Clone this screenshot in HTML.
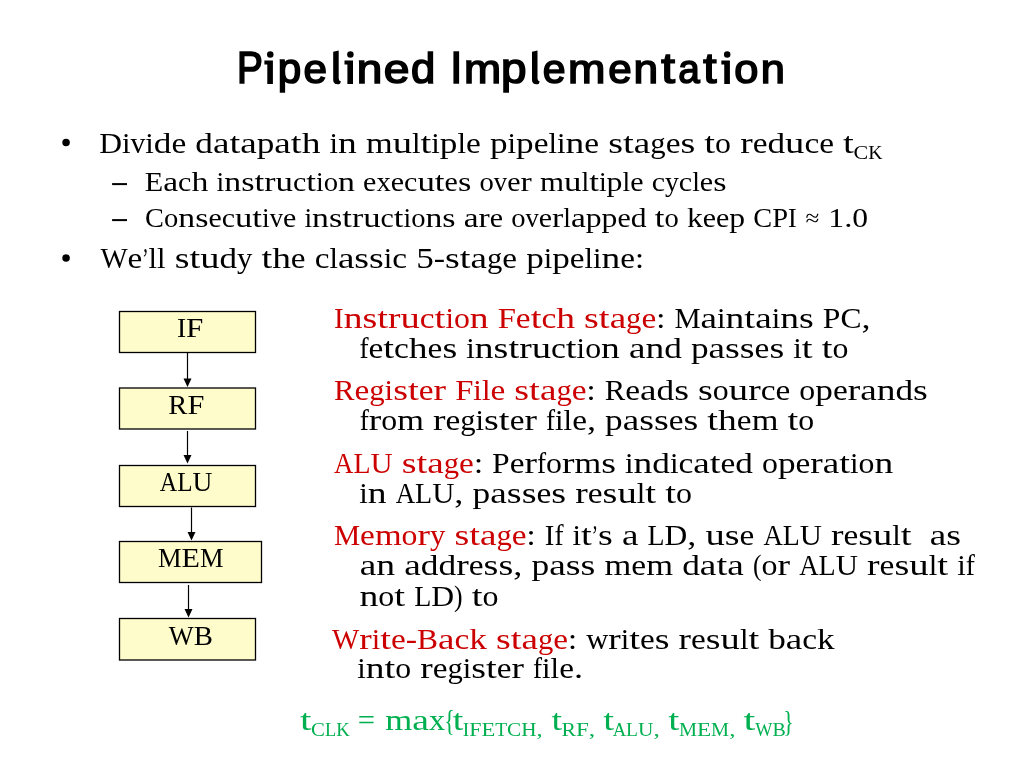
<!DOCTYPE html>
<html>
<head>
<meta charset="utf-8">
<style>
html,body{margin:0;padding:0;background:#fff;}
body{width:1024px;height:768px;overflow:hidden;}
svg{display:block;will-change:transform;}
.t{font-family:"Liberation Serif",serif;}
.s{font-family:"Liberation Sans",sans-serif;}
</style>
</head>
<body>
<svg width="1024" height="768" viewBox="0 0 1024 768">
<rect x="0" y="0" width="1024" height="768" fill="#fff"/>
<!-- bullets -->
<circle cx="66.05" cy="142.6" r="3.75" fill="#000"/>
<circle cx="66.05" cy="258.05" r="3.75" fill="#000"/>
<rect x="112.1" y="183.1" width="14.9" height="2" fill="#000"/>
<rect x="112.1" y="219.1" width="14.9" height="2" fill="#000"/>
<!-- Diagram -->
<g stroke="#000" stroke-width="1.3" fill="#FFFCCC">
<rect x="119.5" y="311.5" width="136" height="41"/>
<rect x="119.5" y="388" width="136" height="41"/>
<rect x="119.5" y="465.5" width="136" height="41"/>
<rect x="119.5" y="541.5" width="142" height="41"/>
<rect x="119.5" y="618.5" width="136" height="41.5"/>
</g>
<g stroke="#000" stroke-width="1.2">
<line x1="187.5" y1="353" x2="187.5" y2="380"/>
<line x1="187.5" y1="431" x2="187.5" y2="457"/>
<line x1="191.5" y1="507.5" x2="191.5" y2="534"/>
<line x1="188.5" y1="585" x2="188.5" y2="611"/>
</g>
<g fill="#000">
<polygon points="183.5,378.5 191.5,378.5 187.5,387"/>
<polygon points="183.5,455 191.5,455 187.5,463.5"/>
<polygon points="187.5,532 195.5,532 191.5,540.5"/>
<polygon points="184.5,609 192.5,609 188.5,617.5"/>
</g>
<!-- texts -->
<g fill="#000"><path d="M267.30,60.5 L272.90,60.5 L272.90,84 L267.30,84 L267.30,64.6 L264.40,64.6 L264.40,60.5 Z"/><circle cx="270.25" cy="54.4" r="3.25"/><path d="M333.20,51.7 L338.70,50.5 L338.70,78.6 Q338.80,80.9 340.90,81.6 L340.00,83.7 Q337.40,84.7 335.00,83.8 Q333.20,82.9 333.20,80.2 Z"/><path d="M347.40,60.5 L353.00,60.5 L353.00,84 L347.40,84 L347.40,64.6 L344.50,64.6 L344.50,60.5 Z"/><circle cx="350.40" cy="54.4" r="3.25"/><path d="M532.00,51.7 L537.50,50.5 L537.50,78.6 Q537.60,80.9 539.70,81.6 L538.80,83.7 Q536.20,84.7 533.80,83.8 Q532.00,82.9 532.00,80.2 Z"/><path d="M724.25,60.5 L729.90,60.5 L729.90,84 L724.25,84 L724.25,64.6 L721.35,64.6 L721.35,60.5 Z"/><circle cx="727.20" cy="54.4" r="3.25"/></g><g font-family="'Liberation Sans', sans-serif" font-size="44" fill="#000" stroke="#000" stroke-width="1.7"><text x="237.01" y="83.3" textLength="25.84" lengthAdjust="spacingAndGlyphs">P</text><text x="277.88" y="83.3" textLength="23.48" lengthAdjust="spacingAndGlyphs" transform="matrix(1,0,0,0.97,0,2.499)">p</text><text x="303.44" y="83.3" textLength="23.48" lengthAdjust="spacingAndGlyphs" transform="matrix(1,0,0,0.92,0,6.664)">e</text><text x="356.71" y="83.3" textLength="25.53" lengthAdjust="spacingAndGlyphs" transform="matrix(1,0,0,0.92,0,6.664)">n</text><text x="383.85" y="83.3" textLength="25.71" lengthAdjust="spacingAndGlyphs" transform="matrix(1,0,0,0.92,0,6.664)">e</text><text x="411.01" y="83.3" textLength="24.26" lengthAdjust="spacingAndGlyphs" transform="matrix(1,0,0,0.97,0,2.499)">d</text><text x="450.25" y="83.3" textLength="12.03" lengthAdjust="spacingAndGlyphs">I</text><text x="464.08" y="83.3" textLength="37.10" lengthAdjust="spacingAndGlyphs" transform="matrix(1,0,0,0.92,0,6.664)">m</text><text x="500.92" y="83.3" textLength="25.49" lengthAdjust="spacingAndGlyphs" transform="matrix(1,0,0,0.97,0,2.499)">p</text><text x="542.87" y="83.3" textLength="22.81" lengthAdjust="spacingAndGlyphs" transform="matrix(1,0,0,0.92,0,6.664)">e</text><text x="568.06" y="83.3" textLength="37.43" lengthAdjust="spacingAndGlyphs" transform="matrix(1,0,0,0.92,0,6.664)">m</text><text x="608.14" y="83.3" textLength="23.48" lengthAdjust="spacingAndGlyphs" transform="matrix(1,0,0,0.92,0,6.664)">e</text><text x="633.49" y="83.3" textLength="24.60" lengthAdjust="spacingAndGlyphs" transform="matrix(1,0,0,0.92,0,6.664)">n</text><text x="661.17" y="83.3" textLength="13.70" lengthAdjust="spacingAndGlyphs" transform="matrix(1,0,0,0.96,0,3.332)">t</text><text x="678.36" y="83.3" textLength="21.55" lengthAdjust="spacingAndGlyphs" transform="matrix(1,0,0,0.92,0,6.664)">a</text><text x="703.20" y="83.3" textLength="13.27" lengthAdjust="spacingAndGlyphs" transform="matrix(1,0,0,0.96,0,3.332)">t</text><text x="734.31" y="83.3" textLength="24.17" lengthAdjust="spacingAndGlyphs" transform="matrix(1,0,0,0.92,0,6.664)">o</text><text x="760.73" y="83.3" textLength="24.13" lengthAdjust="spacingAndGlyphs" transform="matrix(1,0,0,0.92,0,6.664)">n</text></g>
<g class="t" font-size="29.78"><g fill="#000"><text x="99.20" y="152.7" textLength="22.75" lengthAdjust="spacingAndGlyphs">D</text><text x="121.95" y="152.7" textLength="8.53" lengthAdjust="spacingAndGlyphs">i</text><text x="130.48" y="152.7" textLength="14.79" lengthAdjust="spacingAndGlyphs">v</text><text x="145.27" y="152.7" textLength="8.53" lengthAdjust="spacingAndGlyphs">i</text><text x="153.80" y="152.7" textLength="17.63" lengthAdjust="spacingAndGlyphs">d</text><text x="171.43" y="152.7" textLength="14.79" lengthAdjust="spacingAndGlyphs">e</text><text x="195.31" y="152.7" textLength="17.63" lengthAdjust="spacingAndGlyphs">d</text><text x="212.95" y="152.7" textLength="16.49" lengthAdjust="spacingAndGlyphs">a</text><text x="229.44" y="152.7" textLength="10.81" lengthAdjust="spacingAndGlyphs">t</text><text x="240.24" y="152.7" textLength="16.49" lengthAdjust="spacingAndGlyphs">a</text><text x="256.74" y="152.7" textLength="17.63" lengthAdjust="spacingAndGlyphs">p</text><text x="274.37" y="152.7" textLength="16.49" lengthAdjust="spacingAndGlyphs">a</text><text x="290.86" y="152.7" textLength="10.81" lengthAdjust="spacingAndGlyphs">t</text><text x="301.67" y="152.7" textLength="18.77" lengthAdjust="spacingAndGlyphs">h</text><text x="329.53" y="152.7" textLength="8.53" lengthAdjust="spacingAndGlyphs">i</text><text x="338.06" y="152.7" textLength="18.77" lengthAdjust="spacingAndGlyphs">n</text><text x="365.93" y="152.7" textLength="26.73" lengthAdjust="spacingAndGlyphs">m</text><text x="392.66" y="152.7" textLength="19.34" lengthAdjust="spacingAndGlyphs">u</text><text x="412.00" y="152.7" textLength="8.53" lengthAdjust="spacingAndGlyphs">l</text><text x="420.53" y="152.7" textLength="10.81" lengthAdjust="spacingAndGlyphs">t</text><text x="431.34" y="152.7" textLength="8.53" lengthAdjust="spacingAndGlyphs">i</text><text x="439.87" y="152.7" textLength="17.63" lengthAdjust="spacingAndGlyphs">p</text><text x="457.50" y="152.7" textLength="8.53" lengthAdjust="spacingAndGlyphs">l</text><text x="466.03" y="152.7" textLength="14.79" lengthAdjust="spacingAndGlyphs">e</text><text x="489.91" y="152.7" textLength="17.63" lengthAdjust="spacingAndGlyphs">p</text><text x="507.54" y="152.7" textLength="8.53" lengthAdjust="spacingAndGlyphs">i</text><text x="516.08" y="152.7" textLength="17.63" lengthAdjust="spacingAndGlyphs">p</text><text x="533.71" y="152.7" textLength="14.79" lengthAdjust="spacingAndGlyphs">e</text><text x="548.49" y="152.7" textLength="8.53" lengthAdjust="spacingAndGlyphs">l</text><text x="557.02" y="152.7" textLength="8.53" lengthAdjust="spacingAndGlyphs">i</text><text x="565.55" y="152.7" textLength="18.77" lengthAdjust="spacingAndGlyphs">n</text><text x="584.32" y="152.7" textLength="14.79" lengthAdjust="spacingAndGlyphs">e</text><text x="608.21" y="152.7" textLength="14.79" lengthAdjust="spacingAndGlyphs">s</text><text x="623.00" y="152.7" textLength="10.81" lengthAdjust="spacingAndGlyphs">t</text><text x="633.80" y="152.7" textLength="16.49" lengthAdjust="spacingAndGlyphs">a</text><text x="650.29" y="152.7" textLength="15.36" lengthAdjust="spacingAndGlyphs">g</text><text x="665.65" y="152.7" textLength="14.79" lengthAdjust="spacingAndGlyphs">e</text><text x="680.44" y="152.7" textLength="14.79" lengthAdjust="spacingAndGlyphs">s</text><text x="704.32" y="152.7" textLength="10.81" lengthAdjust="spacingAndGlyphs">t</text><text x="715.13" y="152.7" textLength="15.92" lengthAdjust="spacingAndGlyphs">o</text><text x="740.15" y="152.7" textLength="12.51" lengthAdjust="spacingAndGlyphs">r</text><text x="752.66" y="152.7" textLength="14.79" lengthAdjust="spacingAndGlyphs">e</text><text x="767.45" y="152.7" textLength="17.63" lengthAdjust="spacingAndGlyphs">d</text><text x="785.08" y="152.7" textLength="19.34" lengthAdjust="spacingAndGlyphs">u</text><text x="804.42" y="152.7" textLength="14.79" lengthAdjust="spacingAndGlyphs">c</text><text x="819.21" y="152.7" textLength="14.79" lengthAdjust="spacingAndGlyphs">e</text><text x="843.09" y="152.7" textLength="10.81" lengthAdjust="spacingAndGlyphs">t</text></g></g>
<g class="t" font-size="19.85"><g fill="#000"><text x="853.55" y="158.8" textLength="14.68" lengthAdjust="spacingAndGlyphs">C</text><text x="868.23" y="158.8" textLength="14.28" lengthAdjust="spacingAndGlyphs">K</text></g></g>
<g class="t" font-size="26.8"><g fill="#000"><text x="144.80" y="190.7" textLength="18.45" lengthAdjust="spacingAndGlyphs">E</text><text x="163.25" y="190.7" textLength="14.86" lengthAdjust="spacingAndGlyphs">a</text><text x="178.11" y="190.7" textLength="13.33" lengthAdjust="spacingAndGlyphs">c</text><text x="191.44" y="190.7" textLength="16.91" lengthAdjust="spacingAndGlyphs">h</text><text x="216.55" y="190.7" textLength="7.69" lengthAdjust="spacingAndGlyphs">i</text><text x="224.24" y="190.7" textLength="16.91" lengthAdjust="spacingAndGlyphs">n</text><text x="241.15" y="190.7" textLength="13.33" lengthAdjust="spacingAndGlyphs">s</text><text x="254.48" y="190.7" textLength="9.74" lengthAdjust="spacingAndGlyphs">t</text><text x="264.22" y="190.7" textLength="11.28" lengthAdjust="spacingAndGlyphs">r</text><text x="275.49" y="190.7" textLength="17.43" lengthAdjust="spacingAndGlyphs">u</text><text x="292.92" y="190.7" textLength="13.33" lengthAdjust="spacingAndGlyphs">c</text><text x="306.25" y="190.7" textLength="9.74" lengthAdjust="spacingAndGlyphs">t</text><text x="315.98" y="190.7" textLength="7.69" lengthAdjust="spacingAndGlyphs">i</text><text x="323.67" y="190.7" textLength="14.35" lengthAdjust="spacingAndGlyphs">o</text><text x="338.02" y="190.7" textLength="16.91" lengthAdjust="spacingAndGlyphs">n</text><text x="363.14" y="190.7" textLength="13.33" lengthAdjust="spacingAndGlyphs">e</text><text x="376.46" y="190.7" textLength="14.35" lengthAdjust="spacingAndGlyphs">x</text><text x="390.81" y="190.7" textLength="13.33" lengthAdjust="spacingAndGlyphs">e</text><text x="404.14" y="190.7" textLength="13.33" lengthAdjust="spacingAndGlyphs">c</text><text x="417.47" y="190.7" textLength="17.43" lengthAdjust="spacingAndGlyphs">u</text><text x="434.89" y="190.7" textLength="9.74" lengthAdjust="spacingAndGlyphs">t</text><text x="444.63" y="190.7" textLength="13.33" lengthAdjust="spacingAndGlyphs">e</text><text x="457.96" y="190.7" textLength="13.33" lengthAdjust="spacingAndGlyphs">s</text><text x="479.48" y="190.7" textLength="14.35" lengthAdjust="spacingAndGlyphs">o</text><text x="493.83" y="190.7" textLength="13.33" lengthAdjust="spacingAndGlyphs">v</text><text x="507.16" y="190.7" textLength="13.33" lengthAdjust="spacingAndGlyphs">e</text><text x="520.48" y="190.7" textLength="11.28" lengthAdjust="spacingAndGlyphs">r</text><text x="539.96" y="190.7" textLength="24.09" lengthAdjust="spacingAndGlyphs">m</text><text x="564.05" y="190.7" textLength="17.43" lengthAdjust="spacingAndGlyphs">u</text><text x="581.48" y="190.7" textLength="7.69" lengthAdjust="spacingAndGlyphs">l</text><text x="589.16" y="190.7" textLength="9.74" lengthAdjust="spacingAndGlyphs">t</text><text x="598.90" y="190.7" textLength="7.69" lengthAdjust="spacingAndGlyphs">i</text><text x="606.59" y="190.7" textLength="15.89" lengthAdjust="spacingAndGlyphs">p</text><text x="622.48" y="190.7" textLength="7.69" lengthAdjust="spacingAndGlyphs">l</text><text x="630.17" y="190.7" textLength="13.33" lengthAdjust="spacingAndGlyphs">e</text><text x="651.69" y="190.7" textLength="13.33" lengthAdjust="spacingAndGlyphs">c</text><text x="665.02" y="190.7" textLength="13.84" lengthAdjust="spacingAndGlyphs">y</text><text x="678.86" y="190.7" textLength="13.33" lengthAdjust="spacingAndGlyphs">c</text><text x="692.18" y="190.7" textLength="7.69" lengthAdjust="spacingAndGlyphs">l</text><text x="699.87" y="190.7" textLength="13.33" lengthAdjust="spacingAndGlyphs">e</text><text x="713.20" y="190.7" textLength="13.33" lengthAdjust="spacingAndGlyphs">s</text></g></g>
<g class="t" font-size="26.8"><g fill="#000"><text x="145.10" y="226.6" textLength="18.89" lengthAdjust="spacingAndGlyphs">C</text><text x="164.00" y="226.6" textLength="14.30" lengthAdjust="spacingAndGlyphs">o</text><text x="178.30" y="226.6" textLength="16.85" lengthAdjust="spacingAndGlyphs">n</text><text x="195.15" y="226.6" textLength="13.28" lengthAdjust="spacingAndGlyphs">s</text><text x="208.42" y="226.6" textLength="13.28" lengthAdjust="spacingAndGlyphs">e</text><text x="221.70" y="226.6" textLength="13.28" lengthAdjust="spacingAndGlyphs">c</text><text x="234.98" y="226.6" textLength="17.36" lengthAdjust="spacingAndGlyphs">u</text><text x="252.34" y="226.6" textLength="9.70" lengthAdjust="spacingAndGlyphs">t</text><text x="262.04" y="226.6" textLength="7.66" lengthAdjust="spacingAndGlyphs">i</text><text x="269.70" y="226.6" textLength="13.28" lengthAdjust="spacingAndGlyphs">v</text><text x="282.98" y="226.6" textLength="13.28" lengthAdjust="spacingAndGlyphs">e</text><text x="304.43" y="226.6" textLength="7.66" lengthAdjust="spacingAndGlyphs">i</text><text x="312.09" y="226.6" textLength="16.85" lengthAdjust="spacingAndGlyphs">n</text><text x="328.94" y="226.6" textLength="13.28" lengthAdjust="spacingAndGlyphs">s</text><text x="342.22" y="226.6" textLength="9.70" lengthAdjust="spacingAndGlyphs">t</text><text x="351.92" y="226.6" textLength="11.23" lengthAdjust="spacingAndGlyphs">r</text><text x="363.15" y="226.6" textLength="17.36" lengthAdjust="spacingAndGlyphs">u</text><text x="380.51" y="226.6" textLength="13.28" lengthAdjust="spacingAndGlyphs">c</text><text x="393.79" y="226.6" textLength="9.70" lengthAdjust="spacingAndGlyphs">t</text><text x="403.49" y="226.6" textLength="7.66" lengthAdjust="spacingAndGlyphs">i</text><text x="411.15" y="226.6" textLength="14.30" lengthAdjust="spacingAndGlyphs">o</text><text x="425.45" y="226.6" textLength="16.85" lengthAdjust="spacingAndGlyphs">n</text><text x="442.30" y="226.6" textLength="13.28" lengthAdjust="spacingAndGlyphs">s</text><text x="463.75" y="226.6" textLength="14.81" lengthAdjust="spacingAndGlyphs">a</text><text x="478.56" y="226.6" textLength="11.23" lengthAdjust="spacingAndGlyphs">r</text><text x="489.79" y="226.6" textLength="13.28" lengthAdjust="spacingAndGlyphs">e</text><text x="511.24" y="226.6" textLength="14.30" lengthAdjust="spacingAndGlyphs">o</text><text x="525.54" y="226.6" textLength="13.28" lengthAdjust="spacingAndGlyphs">v</text><text x="538.82" y="226.6" textLength="13.28" lengthAdjust="spacingAndGlyphs">e</text><text x="552.09" y="226.6" textLength="11.23" lengthAdjust="spacingAndGlyphs">r</text><text x="563.33" y="226.6" textLength="7.66" lengthAdjust="spacingAndGlyphs">l</text><text x="570.99" y="226.6" textLength="14.81" lengthAdjust="spacingAndGlyphs">a</text><text x="585.80" y="226.6" textLength="15.83" lengthAdjust="spacingAndGlyphs">p</text><text x="601.63" y="226.6" textLength="15.83" lengthAdjust="spacingAndGlyphs">p</text><text x="617.46" y="226.6" textLength="13.28" lengthAdjust="spacingAndGlyphs">e</text><text x="630.74" y="226.6" textLength="15.83" lengthAdjust="spacingAndGlyphs">d</text><text x="654.74" y="226.6" textLength="9.70" lengthAdjust="spacingAndGlyphs">t</text><text x="664.44" y="226.6" textLength="14.30" lengthAdjust="spacingAndGlyphs">o</text><text x="686.91" y="226.6" textLength="15.83" lengthAdjust="spacingAndGlyphs">k</text><text x="702.74" y="226.6" textLength="13.28" lengthAdjust="spacingAndGlyphs">e</text><text x="716.01" y="226.6" textLength="13.28" lengthAdjust="spacingAndGlyphs">e</text><text x="729.29" y="226.6" textLength="15.83" lengthAdjust="spacingAndGlyphs">p</text><text x="753.29" y="226.6" textLength="18.89" lengthAdjust="spacingAndGlyphs">C</text><text x="772.19" y="226.6" textLength="15.83" lengthAdjust="spacingAndGlyphs">P</text><text x="788.02" y="226.6" textLength="8.68" lengthAdjust="spacingAndGlyphs">I</text><text x="805.63" y="226.29999999999998" font-size="24.12" textLength="13.79" lengthAdjust="spacingAndGlyphs">≈</text><text x="828.36" y="226.6" textLength="15.83" lengthAdjust="spacingAndGlyphs">1</text><text x="844.19" y="226.6" textLength="8.17" lengthAdjust="spacingAndGlyphs">.</text><text x="852.36" y="226.6" textLength="15.83" lengthAdjust="spacingAndGlyphs">0</text></g></g>
<g class="t" font-size="29.78"><g fill="#000"><text x="100.40" y="267.8" textLength="27.21" lengthAdjust="spacingAndGlyphs">W</text><text x="127.61" y="267.8" textLength="14.74" lengthAdjust="spacingAndGlyphs">e</text><text x="142.35" y="267.8" textLength="6.24" lengthAdjust="spacingAndGlyphs">’</text><text x="148.59" y="267.8" textLength="8.50" lengthAdjust="spacingAndGlyphs">l</text><text x="157.09" y="267.8" textLength="8.50" lengthAdjust="spacingAndGlyphs">l</text><text x="174.67" y="267.8" textLength="14.74" lengthAdjust="spacingAndGlyphs">s</text><text x="189.41" y="267.8" textLength="10.77" lengthAdjust="spacingAndGlyphs">t</text><text x="200.18" y="267.8" textLength="19.28" lengthAdjust="spacingAndGlyphs">u</text><text x="219.45" y="267.8" textLength="17.57" lengthAdjust="spacingAndGlyphs">d</text><text x="237.03" y="267.8" textLength="15.31" lengthAdjust="spacingAndGlyphs">y</text><text x="261.40" y="267.8" textLength="10.77" lengthAdjust="spacingAndGlyphs">t</text><text x="272.18" y="267.8" textLength="18.71" lengthAdjust="spacingAndGlyphs">h</text><text x="290.88" y="267.8" textLength="14.74" lengthAdjust="spacingAndGlyphs">e</text><text x="314.69" y="267.8" textLength="14.74" lengthAdjust="spacingAndGlyphs">c</text><text x="329.43" y="267.8" textLength="8.50" lengthAdjust="spacingAndGlyphs">l</text><text x="337.94" y="267.8" textLength="16.44" lengthAdjust="spacingAndGlyphs">a</text><text x="354.38" y="267.8" textLength="14.74" lengthAdjust="spacingAndGlyphs">s</text><text x="369.12" y="267.8" textLength="14.74" lengthAdjust="spacingAndGlyphs">s</text><text x="383.86" y="267.8" textLength="8.50" lengthAdjust="spacingAndGlyphs">i</text><text x="392.36" y="267.8" textLength="14.74" lengthAdjust="spacingAndGlyphs">c</text><text x="416.17" y="267.8" textLength="17.57" lengthAdjust="spacingAndGlyphs">5</text><text x="433.75" y="267.8" textLength="11.34" lengthAdjust="spacingAndGlyphs">-</text><text x="445.08" y="267.8" textLength="14.74" lengthAdjust="spacingAndGlyphs">s</text><text x="459.82" y="267.8" textLength="10.77" lengthAdjust="spacingAndGlyphs">t</text><text x="470.60" y="267.8" textLength="16.44" lengthAdjust="spacingAndGlyphs">a</text><text x="487.04" y="267.8" textLength="15.31" lengthAdjust="spacingAndGlyphs">g</text><text x="502.34" y="267.8" textLength="14.74" lengthAdjust="spacingAndGlyphs">e</text><text x="526.15" y="267.8" textLength="17.57" lengthAdjust="spacingAndGlyphs">p</text><text x="543.73" y="267.8" textLength="8.50" lengthAdjust="spacingAndGlyphs">i</text><text x="552.23" y="267.8" textLength="17.57" lengthAdjust="spacingAndGlyphs">p</text><text x="569.81" y="267.8" textLength="14.74" lengthAdjust="spacingAndGlyphs">e</text><text x="584.54" y="267.8" textLength="8.50" lengthAdjust="spacingAndGlyphs">l</text><text x="593.05" y="267.8" textLength="8.50" lengthAdjust="spacingAndGlyphs">i</text><text x="601.55" y="267.8" textLength="18.71" lengthAdjust="spacingAndGlyphs">n</text><text x="620.26" y="267.8" textLength="14.74" lengthAdjust="spacingAndGlyphs">e</text><text x="635.00" y="267.8" textLength="9.07" lengthAdjust="spacingAndGlyphs">:</text></g></g>
<g class="t" font-size="29.78"><g fill="#CC0000"><text x="334.00" y="328" textLength="9.66" lengthAdjust="spacingAndGlyphs">I</text><text x="343.66" y="328" textLength="18.76" lengthAdjust="spacingAndGlyphs">n</text><text x="362.42" y="328" textLength="14.78" lengthAdjust="spacingAndGlyphs">s</text><text x="377.20" y="328" textLength="10.80" lengthAdjust="spacingAndGlyphs">t</text><text x="388.00" y="328" textLength="12.50" lengthAdjust="spacingAndGlyphs">r</text><text x="400.50" y="328" textLength="19.32" lengthAdjust="spacingAndGlyphs">u</text><text x="419.83" y="328" textLength="14.78" lengthAdjust="spacingAndGlyphs">c</text><text x="434.60" y="328" textLength="10.80" lengthAdjust="spacingAndGlyphs">t</text><text x="445.40" y="328" textLength="8.53" lengthAdjust="spacingAndGlyphs">i</text><text x="453.93" y="328" textLength="15.91" lengthAdjust="spacingAndGlyphs">o</text><text x="469.84" y="328" textLength="18.76" lengthAdjust="spacingAndGlyphs">n</text><text x="497.69" y="328" textLength="18.19" lengthAdjust="spacingAndGlyphs">F</text><text x="515.88" y="328" textLength="14.78" lengthAdjust="spacingAndGlyphs">e</text><text x="530.66" y="328" textLength="10.80" lengthAdjust="spacingAndGlyphs">t</text><text x="541.46" y="328" textLength="14.78" lengthAdjust="spacingAndGlyphs">c</text><text x="556.23" y="328" textLength="18.76" lengthAdjust="spacingAndGlyphs">h</text><text x="584.09" y="328" textLength="14.78" lengthAdjust="spacingAndGlyphs">s</text><text x="598.86" y="328" textLength="10.80" lengthAdjust="spacingAndGlyphs">t</text><text x="609.66" y="328" textLength="16.48" lengthAdjust="spacingAndGlyphs">a</text><text x="626.14" y="328" textLength="15.35" lengthAdjust="spacingAndGlyphs">g</text><text x="641.49" y="328" textLength="14.78" lengthAdjust="spacingAndGlyphs">e</text></g><g fill="#000"><text x="656.27" y="328" textLength="9.09" lengthAdjust="spacingAndGlyphs">:</text><text x="674.46" y="328" textLength="26.15" lengthAdjust="spacingAndGlyphs">M</text><text x="700.60" y="328" textLength="16.48" lengthAdjust="spacingAndGlyphs">a</text><text x="717.08" y="328" textLength="8.53" lengthAdjust="spacingAndGlyphs">i</text><text x="725.61" y="328" textLength="18.76" lengthAdjust="spacingAndGlyphs">n</text><text x="744.37" y="328" textLength="10.80" lengthAdjust="spacingAndGlyphs">t</text><text x="755.17" y="328" textLength="16.48" lengthAdjust="spacingAndGlyphs">a</text><text x="771.65" y="328" textLength="8.53" lengthAdjust="spacingAndGlyphs">i</text><text x="780.17" y="328" textLength="18.76" lengthAdjust="spacingAndGlyphs">n</text><text x="798.93" y="328" textLength="14.78" lengthAdjust="spacingAndGlyphs">s</text><text x="822.80" y="328" textLength="17.62" lengthAdjust="spacingAndGlyphs">P</text><text x="840.42" y="328" textLength="21.03" lengthAdjust="spacingAndGlyphs">C</text><text x="861.45" y="328" textLength="9.09" lengthAdjust="spacingAndGlyphs">,</text></g></g>
<g class="t" font-size="29.78"><g fill="#000"><text x="359.40" y="358" textLength="9.10" lengthAdjust="spacingAndGlyphs">f</text><text x="368.50" y="358" textLength="14.79" lengthAdjust="spacingAndGlyphs">e</text><text x="383.28" y="358" textLength="10.80" lengthAdjust="spacingAndGlyphs">t</text><text x="394.09" y="358" textLength="14.79" lengthAdjust="spacingAndGlyphs">c</text><text x="408.88" y="358" textLength="18.77" lengthAdjust="spacingAndGlyphs">h</text><text x="427.64" y="358" textLength="14.79" lengthAdjust="spacingAndGlyphs">e</text><text x="442.43" y="358" textLength="14.79" lengthAdjust="spacingAndGlyphs">s</text><text x="466.31" y="358" textLength="8.53" lengthAdjust="spacingAndGlyphs">i</text><text x="474.84" y="358" textLength="18.77" lengthAdjust="spacingAndGlyphs">n</text><text x="493.61" y="358" textLength="14.79" lengthAdjust="spacingAndGlyphs">s</text><text x="508.40" y="358" textLength="10.80" lengthAdjust="spacingAndGlyphs">t</text><text x="519.20" y="358" textLength="12.51" lengthAdjust="spacingAndGlyphs">r</text><text x="531.71" y="358" textLength="19.34" lengthAdjust="spacingAndGlyphs">u</text><text x="551.05" y="358" textLength="14.79" lengthAdjust="spacingAndGlyphs">c</text><text x="565.83" y="358" textLength="10.80" lengthAdjust="spacingAndGlyphs">t</text><text x="576.64" y="358" textLength="8.53" lengthAdjust="spacingAndGlyphs">i</text><text x="585.17" y="358" textLength="15.92" lengthAdjust="spacingAndGlyphs">o</text><text x="601.09" y="358" textLength="18.77" lengthAdjust="spacingAndGlyphs">n</text><text x="628.96" y="358" textLength="16.49" lengthAdjust="spacingAndGlyphs">a</text><text x="645.45" y="358" textLength="18.77" lengthAdjust="spacingAndGlyphs">n</text><text x="664.21" y="358" textLength="17.63" lengthAdjust="spacingAndGlyphs">d</text><text x="690.94" y="358" textLength="17.63" lengthAdjust="spacingAndGlyphs">p</text><text x="708.57" y="358" textLength="16.49" lengthAdjust="spacingAndGlyphs">a</text><text x="725.06" y="358" textLength="14.79" lengthAdjust="spacingAndGlyphs">s</text><text x="739.85" y="358" textLength="14.79" lengthAdjust="spacingAndGlyphs">s</text><text x="754.64" y="358" textLength="14.79" lengthAdjust="spacingAndGlyphs">e</text><text x="769.42" y="358" textLength="14.79" lengthAdjust="spacingAndGlyphs">s</text><text x="793.31" y="358" textLength="8.53" lengthAdjust="spacingAndGlyphs">i</text><text x="801.84" y="358" textLength="10.80" lengthAdjust="spacingAndGlyphs">t</text><text x="821.74" y="358" textLength="10.80" lengthAdjust="spacingAndGlyphs">t</text><text x="832.54" y="358" textLength="15.92" lengthAdjust="spacingAndGlyphs">o</text></g></g>
<g class="t" font-size="29.78"><g fill="#CC0000"><text x="334.00" y="399.5" textLength="20.48" lengthAdjust="spacingAndGlyphs">R</text><text x="354.48" y="399.5" textLength="14.79" lengthAdjust="spacingAndGlyphs">e</text><text x="369.27" y="399.5" textLength="15.36" lengthAdjust="spacingAndGlyphs">g</text><text x="384.63" y="399.5" textLength="8.53" lengthAdjust="spacingAndGlyphs">i</text><text x="393.17" y="399.5" textLength="14.79" lengthAdjust="spacingAndGlyphs">s</text><text x="407.96" y="399.5" textLength="10.81" lengthAdjust="spacingAndGlyphs">t</text><text x="418.77" y="399.5" textLength="14.79" lengthAdjust="spacingAndGlyphs">e</text><text x="433.56" y="399.5" textLength="12.52" lengthAdjust="spacingAndGlyphs">r</text><text x="455.17" y="399.5" textLength="18.20" lengthAdjust="spacingAndGlyphs">F</text><text x="473.38" y="399.5" textLength="8.53" lengthAdjust="spacingAndGlyphs">i</text><text x="481.91" y="399.5" textLength="8.53" lengthAdjust="spacingAndGlyphs">l</text><text x="490.45" y="399.5" textLength="14.79" lengthAdjust="spacingAndGlyphs">e</text><text x="514.34" y="399.5" textLength="14.79" lengthAdjust="spacingAndGlyphs">s</text><text x="529.13" y="399.5" textLength="10.81" lengthAdjust="spacingAndGlyphs">t</text><text x="539.94" y="399.5" textLength="16.50" lengthAdjust="spacingAndGlyphs">a</text><text x="556.44" y="399.5" textLength="15.36" lengthAdjust="spacingAndGlyphs">g</text><text x="571.80" y="399.5" textLength="14.79" lengthAdjust="spacingAndGlyphs">e</text></g><g fill="#000"><text x="586.59" y="399.5" textLength="9.10" lengthAdjust="spacingAndGlyphs">:</text><text x="604.79" y="399.5" textLength="20.48" lengthAdjust="spacingAndGlyphs">R</text><text x="625.27" y="399.5" textLength="14.79" lengthAdjust="spacingAndGlyphs">e</text><text x="640.07" y="399.5" textLength="16.50" lengthAdjust="spacingAndGlyphs">a</text><text x="656.56" y="399.5" textLength="17.64" lengthAdjust="spacingAndGlyphs">d</text><text x="674.20" y="399.5" textLength="14.79" lengthAdjust="spacingAndGlyphs">s</text><text x="698.09" y="399.5" textLength="14.79" lengthAdjust="spacingAndGlyphs">s</text><text x="712.88" y="399.5" textLength="15.93" lengthAdjust="spacingAndGlyphs">o</text><text x="728.81" y="399.5" textLength="19.34" lengthAdjust="spacingAndGlyphs">u</text><text x="748.16" y="399.5" textLength="12.52" lengthAdjust="spacingAndGlyphs">r</text><text x="760.67" y="399.5" textLength="14.79" lengthAdjust="spacingAndGlyphs">c</text><text x="775.46" y="399.5" textLength="14.79" lengthAdjust="spacingAndGlyphs">e</text><text x="799.36" y="399.5" textLength="15.93" lengthAdjust="spacingAndGlyphs">o</text><text x="815.29" y="399.5" textLength="17.64" lengthAdjust="spacingAndGlyphs">p</text><text x="832.92" y="399.5" textLength="14.79" lengthAdjust="spacingAndGlyphs">e</text><text x="847.71" y="399.5" textLength="12.52" lengthAdjust="spacingAndGlyphs">r</text><text x="860.23" y="399.5" textLength="16.50" lengthAdjust="spacingAndGlyphs">a</text><text x="876.73" y="399.5" textLength="18.77" lengthAdjust="spacingAndGlyphs">n</text><text x="895.50" y="399.5" textLength="17.64" lengthAdjust="spacingAndGlyphs">d</text><text x="913.14" y="399.5" textLength="14.79" lengthAdjust="spacingAndGlyphs">s</text></g></g>
<g class="t" font-size="29.78"><g fill="#000"><text x="359.70" y="429.7" textLength="9.09" lengthAdjust="spacingAndGlyphs">f</text><text x="368.79" y="429.7" textLength="12.50" lengthAdjust="spacingAndGlyphs">r</text><text x="381.29" y="429.7" textLength="15.91" lengthAdjust="spacingAndGlyphs">o</text><text x="397.19" y="429.7" textLength="26.70" lengthAdjust="spacingAndGlyphs">m</text><text x="432.98" y="429.7" textLength="12.50" lengthAdjust="spacingAndGlyphs">r</text><text x="445.48" y="429.7" textLength="14.77" lengthAdjust="spacingAndGlyphs">e</text><text x="460.25" y="429.7" textLength="15.34" lengthAdjust="spacingAndGlyphs">g</text><text x="475.58" y="429.7" textLength="8.52" lengthAdjust="spacingAndGlyphs">i</text><text x="484.10" y="429.7" textLength="14.77" lengthAdjust="spacingAndGlyphs">s</text><text x="498.87" y="429.7" textLength="10.79" lengthAdjust="spacingAndGlyphs">t</text><text x="509.67" y="429.7" textLength="14.77" lengthAdjust="spacingAndGlyphs">e</text><text x="524.43" y="429.7" textLength="12.50" lengthAdjust="spacingAndGlyphs">r</text><text x="546.02" y="429.7" textLength="9.09" lengthAdjust="spacingAndGlyphs">f</text><text x="555.11" y="429.7" textLength="8.52" lengthAdjust="spacingAndGlyphs">i</text><text x="563.63" y="429.7" textLength="8.52" lengthAdjust="spacingAndGlyphs">l</text><text x="572.15" y="429.7" textLength="14.77" lengthAdjust="spacingAndGlyphs">e</text><text x="586.92" y="429.7" textLength="9.09" lengthAdjust="spacingAndGlyphs">,</text><text x="605.10" y="429.7" textLength="17.61" lengthAdjust="spacingAndGlyphs">p</text><text x="622.71" y="429.7" textLength="16.47" lengthAdjust="spacingAndGlyphs">a</text><text x="639.18" y="429.7" textLength="14.77" lengthAdjust="spacingAndGlyphs">s</text><text x="653.95" y="429.7" textLength="14.77" lengthAdjust="spacingAndGlyphs">s</text><text x="668.72" y="429.7" textLength="14.77" lengthAdjust="spacingAndGlyphs">e</text><text x="683.49" y="429.7" textLength="14.77" lengthAdjust="spacingAndGlyphs">s</text><text x="707.35" y="429.7" textLength="10.79" lengthAdjust="spacingAndGlyphs">t</text><text x="718.14" y="429.7" textLength="18.75" lengthAdjust="spacingAndGlyphs">h</text><text x="736.88" y="429.7" textLength="14.77" lengthAdjust="spacingAndGlyphs">e</text><text x="751.65" y="429.7" textLength="26.70" lengthAdjust="spacingAndGlyphs">m</text><text x="787.44" y="429.7" textLength="10.79" lengthAdjust="spacingAndGlyphs">t</text><text x="798.23" y="429.7" textLength="15.91" lengthAdjust="spacingAndGlyphs">o</text></g></g>
<g class="t" font-size="29.78"><g fill="#CC0000"><text x="334.10" y="472.7" textLength="19.32" lengthAdjust="spacingAndGlyphs">A</text><text x="353.42" y="472.7" textLength="17.05" lengthAdjust="spacingAndGlyphs">L</text><text x="370.47" y="472.7" textLength="22.16" lengthAdjust="spacingAndGlyphs">U</text><text x="401.73" y="472.7" textLength="14.78" lengthAdjust="spacingAndGlyphs">s</text><text x="416.50" y="472.7" textLength="10.80" lengthAdjust="spacingAndGlyphs">t</text><text x="427.30" y="472.7" textLength="16.48" lengthAdjust="spacingAndGlyphs">a</text><text x="443.78" y="472.7" textLength="15.34" lengthAdjust="spacingAndGlyphs">g</text><text x="459.12" y="472.7" textLength="14.78" lengthAdjust="spacingAndGlyphs">e</text></g><g fill="#000"><text x="473.90" y="472.7" textLength="9.09" lengthAdjust="spacingAndGlyphs">:</text><text x="492.08" y="472.7" textLength="17.62" lengthAdjust="spacingAndGlyphs">P</text><text x="509.70" y="472.7" textLength="14.78" lengthAdjust="spacingAndGlyphs">e</text><text x="524.48" y="472.7" textLength="12.50" lengthAdjust="spacingAndGlyphs">r</text><text x="536.98" y="472.7" textLength="9.09" lengthAdjust="spacingAndGlyphs">f</text><text x="546.07" y="472.7" textLength="15.91" lengthAdjust="spacingAndGlyphs">o</text><text x="561.98" y="472.7" textLength="12.50" lengthAdjust="spacingAndGlyphs">r</text><text x="574.49" y="472.7" textLength="26.71" lengthAdjust="spacingAndGlyphs">m</text><text x="601.20" y="472.7" textLength="14.78" lengthAdjust="spacingAndGlyphs">s</text><text x="625.07" y="472.7" textLength="8.52" lengthAdjust="spacingAndGlyphs">i</text><text x="633.59" y="472.7" textLength="18.75" lengthAdjust="spacingAndGlyphs">n</text><text x="652.34" y="472.7" textLength="17.62" lengthAdjust="spacingAndGlyphs">d</text><text x="669.96" y="472.7" textLength="8.52" lengthAdjust="spacingAndGlyphs">i</text><text x="678.48" y="472.7" textLength="14.78" lengthAdjust="spacingAndGlyphs">c</text><text x="693.26" y="472.7" textLength="16.48" lengthAdjust="spacingAndGlyphs">a</text><text x="709.74" y="472.7" textLength="10.80" lengthAdjust="spacingAndGlyphs">t</text><text x="720.54" y="472.7" textLength="14.78" lengthAdjust="spacingAndGlyphs">e</text><text x="735.31" y="472.7" textLength="17.62" lengthAdjust="spacingAndGlyphs">d</text><text x="762.02" y="472.7" textLength="15.91" lengthAdjust="spacingAndGlyphs">o</text><text x="777.94" y="472.7" textLength="17.62" lengthAdjust="spacingAndGlyphs">p</text><text x="795.55" y="472.7" textLength="14.78" lengthAdjust="spacingAndGlyphs">e</text><text x="810.33" y="472.7" textLength="12.50" lengthAdjust="spacingAndGlyphs">r</text><text x="822.83" y="472.7" textLength="16.48" lengthAdjust="spacingAndGlyphs">a</text><text x="839.31" y="472.7" textLength="10.80" lengthAdjust="spacingAndGlyphs">t</text><text x="850.11" y="472.7" textLength="8.52" lengthAdjust="spacingAndGlyphs">i</text><text x="858.63" y="472.7" textLength="15.91" lengthAdjust="spacingAndGlyphs">o</text><text x="874.54" y="472.7" textLength="18.75" lengthAdjust="spacingAndGlyphs">n</text></g></g>
<g class="t" font-size="29.78"><g fill="#000"><text x="359.20" y="502.8" textLength="8.55" lengthAdjust="spacingAndGlyphs">i</text><text x="367.75" y="502.8" textLength="18.81" lengthAdjust="spacingAndGlyphs">n</text><text x="395.68" y="502.8" textLength="19.38" lengthAdjust="spacingAndGlyphs">A</text><text x="415.06" y="502.8" textLength="17.10" lengthAdjust="spacingAndGlyphs">L</text><text x="432.16" y="502.8" textLength="22.23" lengthAdjust="spacingAndGlyphs">U</text><text x="454.39" y="502.8" textLength="9.12" lengthAdjust="spacingAndGlyphs">,</text><text x="472.63" y="502.8" textLength="17.67" lengthAdjust="spacingAndGlyphs">p</text><text x="490.30" y="502.8" textLength="16.53" lengthAdjust="spacingAndGlyphs">a</text><text x="506.83" y="502.8" textLength="14.82" lengthAdjust="spacingAndGlyphs">s</text><text x="521.65" y="502.8" textLength="14.82" lengthAdjust="spacingAndGlyphs">s</text><text x="536.47" y="502.8" textLength="14.82" lengthAdjust="spacingAndGlyphs">e</text><text x="551.29" y="502.8" textLength="14.82" lengthAdjust="spacingAndGlyphs">s</text><text x="575.23" y="502.8" textLength="12.54" lengthAdjust="spacingAndGlyphs">r</text><text x="587.77" y="502.8" textLength="14.82" lengthAdjust="spacingAndGlyphs">e</text><text x="602.59" y="502.8" textLength="14.82" lengthAdjust="spacingAndGlyphs">s</text><text x="617.41" y="502.8" textLength="19.38" lengthAdjust="spacingAndGlyphs">u</text><text x="636.79" y="502.8" textLength="8.55" lengthAdjust="spacingAndGlyphs">l</text><text x="645.34" y="502.8" textLength="10.83" lengthAdjust="spacingAndGlyphs">t</text><text x="665.29" y="502.8" textLength="10.83" lengthAdjust="spacingAndGlyphs">t</text><text x="676.12" y="502.8" textLength="15.96" lengthAdjust="spacingAndGlyphs">o</text></g></g>
<g class="t" font-size="29.78"><g fill="#CC0000"><text x="334.00" y="544.8" textLength="26.13" lengthAdjust="spacingAndGlyphs">M</text><text x="360.13" y="544.8" textLength="14.77" lengthAdjust="spacingAndGlyphs">e</text><text x="374.90" y="544.8" textLength="26.70" lengthAdjust="spacingAndGlyphs">m</text><text x="401.59" y="544.8" textLength="15.90" lengthAdjust="spacingAndGlyphs">o</text><text x="417.49" y="544.8" textLength="12.50" lengthAdjust="spacingAndGlyphs">r</text><text x="429.99" y="544.8" textLength="15.34" lengthAdjust="spacingAndGlyphs">y</text><text x="454.41" y="544.8" textLength="14.77" lengthAdjust="spacingAndGlyphs">s</text><text x="469.18" y="544.8" textLength="10.79" lengthAdjust="spacingAndGlyphs">t</text><text x="479.97" y="544.8" textLength="16.47" lengthAdjust="spacingAndGlyphs">a</text><text x="496.44" y="544.8" textLength="15.34" lengthAdjust="spacingAndGlyphs">g</text><text x="511.78" y="544.8" textLength="14.77" lengthAdjust="spacingAndGlyphs">e</text></g><g fill="#000"><text x="526.55" y="544.8" textLength="9.09" lengthAdjust="spacingAndGlyphs">:</text><text x="544.72" y="544.8" textLength="9.66" lengthAdjust="spacingAndGlyphs">I</text><text x="554.38" y="544.8" textLength="9.09" lengthAdjust="spacingAndGlyphs">f</text><text x="572.55" y="544.8" textLength="8.52" lengthAdjust="spacingAndGlyphs">i</text><text x="581.07" y="544.8" textLength="10.79" lengthAdjust="spacingAndGlyphs">t</text><text x="591.87" y="544.8" textLength="6.25" lengthAdjust="spacingAndGlyphs">’</text><text x="598.11" y="544.8" textLength="14.77" lengthAdjust="spacingAndGlyphs">s</text><text x="621.97" y="544.8" textLength="16.47" lengthAdjust="spacingAndGlyphs">a</text><text x="647.53" y="544.8" textLength="17.04" lengthAdjust="spacingAndGlyphs">L</text><text x="664.57" y="544.8" textLength="22.72" lengthAdjust="spacingAndGlyphs">D</text><text x="687.29" y="544.8" textLength="9.09" lengthAdjust="spacingAndGlyphs">,</text><text x="705.46" y="544.8" textLength="19.31" lengthAdjust="spacingAndGlyphs">u</text><text x="724.77" y="544.8" textLength="14.77" lengthAdjust="spacingAndGlyphs">s</text><text x="739.54" y="544.8" textLength="14.77" lengthAdjust="spacingAndGlyphs">e</text><text x="763.40" y="544.8" textLength="19.31" lengthAdjust="spacingAndGlyphs">A</text><text x="782.71" y="544.8" textLength="17.04" lengthAdjust="spacingAndGlyphs">L</text><text x="799.75" y="544.8" textLength="22.15" lengthAdjust="spacingAndGlyphs">U</text><text x="830.99" y="544.8" textLength="12.50" lengthAdjust="spacingAndGlyphs">r</text><text x="843.48" y="544.8" textLength="14.77" lengthAdjust="spacingAndGlyphs">e</text><text x="858.25" y="544.8" textLength="14.77" lengthAdjust="spacingAndGlyphs">s</text><text x="873.02" y="544.8" textLength="19.31" lengthAdjust="spacingAndGlyphs">u</text><text x="892.33" y="544.8" textLength="8.52" lengthAdjust="spacingAndGlyphs">l</text><text x="900.85" y="544.8" textLength="10.79" lengthAdjust="spacingAndGlyphs">t</text><text x="929.81" y="544.8" textLength="16.47" lengthAdjust="spacingAndGlyphs">a</text><text x="946.29" y="544.8" textLength="14.77" lengthAdjust="spacingAndGlyphs">s</text></g></g>
<g class="t" font-size="29.78"><g fill="#000"><text x="359.80" y="574.9" textLength="16.55" lengthAdjust="spacingAndGlyphs">a</text><text x="376.34" y="574.9" textLength="18.83" lengthAdjust="spacingAndGlyphs">n</text><text x="404.30" y="574.9" textLength="16.55" lengthAdjust="spacingAndGlyphs">a</text><text x="420.85" y="574.9" textLength="17.69" lengthAdjust="spacingAndGlyphs">d</text><text x="438.53" y="574.9" textLength="17.69" lengthAdjust="spacingAndGlyphs">d</text><text x="456.22" y="574.9" textLength="12.55" lengthAdjust="spacingAndGlyphs">r</text><text x="468.77" y="574.9" textLength="14.83" lengthAdjust="spacingAndGlyphs">e</text><text x="483.61" y="574.9" textLength="14.83" lengthAdjust="spacingAndGlyphs">s</text><text x="498.44" y="574.9" textLength="14.83" lengthAdjust="spacingAndGlyphs">s</text><text x="513.28" y="574.9" textLength="9.13" lengthAdjust="spacingAndGlyphs">,</text><text x="531.54" y="574.9" textLength="17.69" lengthAdjust="spacingAndGlyphs">p</text><text x="549.22" y="574.9" textLength="16.55" lengthAdjust="spacingAndGlyphs">a</text><text x="565.77" y="574.9" textLength="14.83" lengthAdjust="spacingAndGlyphs">s</text><text x="580.61" y="574.9" textLength="14.83" lengthAdjust="spacingAndGlyphs">s</text><text x="604.57" y="574.9" textLength="26.82" lengthAdjust="spacingAndGlyphs">m</text><text x="631.39" y="574.9" textLength="14.83" lengthAdjust="spacingAndGlyphs">e</text><text x="646.22" y="574.9" textLength="26.82" lengthAdjust="spacingAndGlyphs">m</text><text x="682.17" y="574.9" textLength="17.69" lengthAdjust="spacingAndGlyphs">d</text><text x="699.85" y="574.9" textLength="16.55" lengthAdjust="spacingAndGlyphs">a</text><text x="716.40" y="574.9" textLength="10.84" lengthAdjust="spacingAndGlyphs">t</text><text x="727.24" y="574.9" textLength="16.55" lengthAdjust="spacingAndGlyphs">a</text><text x="752.92" y="574.9" textLength="8.56" lengthAdjust="spacingAndGlyphs">(</text><text x="761.48" y="574.9" textLength="15.98" lengthAdjust="spacingAndGlyphs">o</text><text x="777.45" y="574.9" textLength="12.55" lengthAdjust="spacingAndGlyphs">r</text><text x="799.13" y="574.9" textLength="19.40" lengthAdjust="spacingAndGlyphs">A</text><text x="818.53" y="574.9" textLength="17.12" lengthAdjust="spacingAndGlyphs">L</text><text x="835.65" y="574.9" textLength="22.25" lengthAdjust="spacingAndGlyphs">U</text><text x="867.03" y="574.9" textLength="12.55" lengthAdjust="spacingAndGlyphs">r</text><text x="879.58" y="574.9" textLength="14.83" lengthAdjust="spacingAndGlyphs">e</text><text x="894.42" y="574.9" textLength="14.83" lengthAdjust="spacingAndGlyphs">s</text><text x="909.25" y="574.9" textLength="19.40" lengthAdjust="spacingAndGlyphs">u</text><text x="928.65" y="574.9" textLength="8.56" lengthAdjust="spacingAndGlyphs">l</text><text x="937.21" y="574.9" textLength="10.84" lengthAdjust="spacingAndGlyphs">t</text><text x="957.18" y="574.9" textLength="8.56" lengthAdjust="spacingAndGlyphs">i</text><text x="965.74" y="574.9" textLength="9.13" lengthAdjust="spacingAndGlyphs">f</text></g></g>
<g class="t" font-size="29.78"><g fill="#000"><text x="359.40" y="606.1" textLength="18.83" lengthAdjust="spacingAndGlyphs">n</text><text x="378.22" y="606.1" textLength="15.97" lengthAdjust="spacingAndGlyphs">o</text><text x="394.20" y="606.1" textLength="10.84" lengthAdjust="spacingAndGlyphs">t</text><text x="414.16" y="606.1" textLength="17.11" lengthAdjust="spacingAndGlyphs">L</text><text x="431.28" y="606.1" textLength="22.82" lengthAdjust="spacingAndGlyphs">D</text><text x="454.09" y="606.1" textLength="8.56" lengthAdjust="spacingAndGlyphs">)</text><text x="471.78" y="606.1" textLength="10.84" lengthAdjust="spacingAndGlyphs">t</text><text x="482.62" y="606.1" textLength="15.97" lengthAdjust="spacingAndGlyphs">o</text></g></g>
<g class="t" font-size="29.78"><g fill="#CC0000"><text x="332.00" y="648.5" textLength="27.23" lengthAdjust="spacingAndGlyphs">W</text><text x="359.23" y="648.5" textLength="12.48" lengthAdjust="spacingAndGlyphs">r</text><text x="371.71" y="648.5" textLength="8.51" lengthAdjust="spacingAndGlyphs">i</text><text x="380.22" y="648.5" textLength="10.78" lengthAdjust="spacingAndGlyphs">t</text><text x="391.00" y="648.5" textLength="14.75" lengthAdjust="spacingAndGlyphs">e</text><text x="405.75" y="648.5" textLength="11.35" lengthAdjust="spacingAndGlyphs">-</text><text x="417.10" y="648.5" textLength="20.99" lengthAdjust="spacingAndGlyphs">B</text><text x="438.09" y="648.5" textLength="16.45" lengthAdjust="spacingAndGlyphs">a</text><text x="454.54" y="648.5" textLength="14.75" lengthAdjust="spacingAndGlyphs">c</text><text x="469.29" y="648.5" textLength="17.59" lengthAdjust="spacingAndGlyphs">k</text><text x="495.96" y="648.5" textLength="14.75" lengthAdjust="spacingAndGlyphs">s</text><text x="510.71" y="648.5" textLength="10.78" lengthAdjust="spacingAndGlyphs">t</text><text x="521.49" y="648.5" textLength="16.45" lengthAdjust="spacingAndGlyphs">a</text><text x="537.94" y="648.5" textLength="15.32" lengthAdjust="spacingAndGlyphs">g</text><text x="553.26" y="648.5" textLength="14.75" lengthAdjust="spacingAndGlyphs">e</text></g><g fill="#000"><text x="568.01" y="648.5" textLength="9.08" lengthAdjust="spacingAndGlyphs">:</text><text x="586.17" y="648.5" textLength="22.13" lengthAdjust="spacingAndGlyphs">w</text><text x="608.29" y="648.5" textLength="12.48" lengthAdjust="spacingAndGlyphs">r</text><text x="620.77" y="648.5" textLength="8.51" lengthAdjust="spacingAndGlyphs">i</text><text x="629.28" y="648.5" textLength="10.78" lengthAdjust="spacingAndGlyphs">t</text><text x="640.06" y="648.5" textLength="14.75" lengthAdjust="spacingAndGlyphs">e</text><text x="654.81" y="648.5" textLength="14.75" lengthAdjust="spacingAndGlyphs">s</text><text x="678.64" y="648.5" textLength="12.48" lengthAdjust="spacingAndGlyphs">r</text><text x="691.12" y="648.5" textLength="14.75" lengthAdjust="spacingAndGlyphs">e</text><text x="705.87" y="648.5" textLength="14.75" lengthAdjust="spacingAndGlyphs">s</text><text x="720.62" y="648.5" textLength="19.29" lengthAdjust="spacingAndGlyphs">u</text><text x="739.91" y="648.5" textLength="8.51" lengthAdjust="spacingAndGlyphs">l</text><text x="748.42" y="648.5" textLength="10.78" lengthAdjust="spacingAndGlyphs">t</text><text x="768.28" y="648.5" textLength="17.59" lengthAdjust="spacingAndGlyphs">b</text><text x="785.87" y="648.5" textLength="16.45" lengthAdjust="spacingAndGlyphs">a</text><text x="802.32" y="648.5" textLength="14.75" lengthAdjust="spacingAndGlyphs">c</text><text x="817.07" y="648.5" textLength="17.59" lengthAdjust="spacingAndGlyphs">k</text></g></g>
<g class="t" font-size="29.78"><g fill="#000"><text x="357.20" y="678.4" textLength="8.51" lengthAdjust="spacingAndGlyphs">i</text><text x="365.71" y="678.4" textLength="18.72" lengthAdjust="spacingAndGlyphs">n</text><text x="384.43" y="678.4" textLength="10.78" lengthAdjust="spacingAndGlyphs">t</text><text x="395.21" y="678.4" textLength="15.88" lengthAdjust="spacingAndGlyphs">o</text><text x="420.17" y="678.4" textLength="12.48" lengthAdjust="spacingAndGlyphs">r</text><text x="432.65" y="678.4" textLength="14.75" lengthAdjust="spacingAndGlyphs">e</text><text x="447.40" y="678.4" textLength="15.32" lengthAdjust="spacingAndGlyphs">g</text><text x="462.71" y="678.4" textLength="8.51" lengthAdjust="spacingAndGlyphs">i</text><text x="471.22" y="678.4" textLength="14.75" lengthAdjust="spacingAndGlyphs">s</text><text x="485.97" y="678.4" textLength="10.78" lengthAdjust="spacingAndGlyphs">t</text><text x="496.75" y="678.4" textLength="14.75" lengthAdjust="spacingAndGlyphs">e</text><text x="511.50" y="678.4" textLength="12.48" lengthAdjust="spacingAndGlyphs">r</text><text x="533.06" y="678.4" textLength="9.08" lengthAdjust="spacingAndGlyphs">f</text><text x="542.13" y="678.4" textLength="8.51" lengthAdjust="spacingAndGlyphs">i</text><text x="550.64" y="678.4" textLength="8.51" lengthAdjust="spacingAndGlyphs">l</text><text x="559.15" y="678.4" textLength="14.75" lengthAdjust="spacingAndGlyphs">e</text><text x="573.90" y="678.4" textLength="9.08" lengthAdjust="spacingAndGlyphs">.</text></g></g>
<g class="t" font-size="27.5"><g fill="#000"><text x="176.94" y="337.3" textLength="9.20" lengthAdjust="spacingAndGlyphs">I</text><text x="186.14" y="337.3" textLength="17.31" lengthAdjust="spacingAndGlyphs">F</text></g></g>
<g class="t" font-size="27.5"><g fill="#000"><text x="168.37" y="413.9" textLength="19.05" lengthAdjust="spacingAndGlyphs">R</text><text x="187.41" y="413.9" textLength="16.93" lengthAdjust="spacingAndGlyphs">F</text></g></g>
<g class="t" font-size="27.5"><g fill="#000"><text x="159.80" y="490.9" textLength="17.37" lengthAdjust="spacingAndGlyphs">A</text><text x="177.17" y="490.9" textLength="15.33" lengthAdjust="spacingAndGlyphs">L</text><text x="192.50" y="490.9" textLength="19.93" lengthAdjust="spacingAndGlyphs">U</text></g></g>
<g class="t" font-size="27.5"><g fill="#000"><text x="158.00" y="566.9" textLength="23.55" lengthAdjust="spacingAndGlyphs">M</text><text x="181.55" y="566.9" textLength="18.43" lengthAdjust="spacingAndGlyphs">E</text><text x="199.98" y="566.9" textLength="23.55" lengthAdjust="spacingAndGlyphs">M</text></g></g>
<g class="t" font-size="27.5"><g fill="#000"><text x="168.75" y="644.5" textLength="24.90" lengthAdjust="spacingAndGlyphs">W</text><text x="193.65" y="644.5" textLength="19.19" lengthAdjust="spacingAndGlyphs">B</text></g></g>
<g class="t" font-size="29.78"><g fill="#00B050"><text x="299.99" y="729.6" textLength="11.47" lengthAdjust="spacingAndGlyphs">t</text></g></g>
<g class="t" font-size="19.85"><g fill="#00B050"><text x="311.11" y="735.8" textLength="13.88" lengthAdjust="spacingAndGlyphs">C</text><text x="324.99" y="735.8" textLength="11.26" lengthAdjust="spacingAndGlyphs">L</text><text x="336.25" y="735.8" textLength="13.51" lengthAdjust="spacingAndGlyphs">K</text></g></g>
<g class="t" font-size="29.78"><g fill="#00B050"><text x="357.87" y="729.6" textLength="17.31" lengthAdjust="spacingAndGlyphs">=</text></g></g>
<g class="t" font-size="29.78"><g fill="#00B050"><text x="385.29" y="729.6" textLength="27.01" lengthAdjust="spacingAndGlyphs">m</text><text x="412.30" y="729.6" textLength="16.67" lengthAdjust="spacingAndGlyphs">a</text><text x="428.97" y="729.6" textLength="16.09" lengthAdjust="spacingAndGlyphs">x</text></g></g>
<g class="t" font-size="29.78"><g fill="#00B050"><text x="452.72" y="729.6" textLength="10.57" lengthAdjust="spacingAndGlyphs">t</text></g></g>
<g class="t" font-size="19.85"><g fill="#00B050"><text x="462.69" y="735.8" textLength="6.50" lengthAdjust="spacingAndGlyphs">I</text><text x="469.19" y="735.8" textLength="12.23" lengthAdjust="spacingAndGlyphs">F</text><text x="481.42" y="735.8" textLength="13.76" lengthAdjust="spacingAndGlyphs">E</text><text x="495.18" y="735.8" textLength="11.85" lengthAdjust="spacingAndGlyphs">T</text><text x="507.02" y="735.8" textLength="14.14" lengthAdjust="spacingAndGlyphs">C</text><text x="521.16" y="735.8" textLength="15.29" lengthAdjust="spacingAndGlyphs">H</text><text x="536.45" y="735.8" textLength="6.11" lengthAdjust="spacingAndGlyphs">,</text></g></g>
<g class="t" font-size="29.78"><g fill="#00B050"><text x="551.62" y="729.6" textLength="10.57" lengthAdjust="spacingAndGlyphs">t</text></g></g>
<g class="t" font-size="19.85"><g fill="#00B050"><text x="561.44" y="735.8" textLength="14.50" lengthAdjust="spacingAndGlyphs">R</text><text x="575.94" y="735.8" textLength="12.89" lengthAdjust="spacingAndGlyphs">F</text><text x="588.82" y="735.8" textLength="6.44" lengthAdjust="spacingAndGlyphs">,</text></g></g>
<g class="t" font-size="29.78"><g fill="#00B050"><text x="603.30" y="729.6" textLength="10.81" lengthAdjust="spacingAndGlyphs">t</text></g></g>
<g class="t" font-size="19.85"><g fill="#00B050"><text x="612.66" y="735.8" textLength="13.46" lengthAdjust="spacingAndGlyphs">A</text><text x="626.12" y="735.8" textLength="11.88" lengthAdjust="spacingAndGlyphs">L</text><text x="638.00" y="735.8" textLength="15.44" lengthAdjust="spacingAndGlyphs">U</text><text x="653.44" y="735.8" textLength="6.34" lengthAdjust="spacingAndGlyphs">,</text></g></g>
<g class="t" font-size="29.78"><g fill="#00B050"><text x="668.28" y="729.6" textLength="11.05" lengthAdjust="spacingAndGlyphs">t</text></g></g>
<g class="t" font-size="19.85"><g fill="#00B050"><text x="678.97" y="735.8" textLength="18.05" lengthAdjust="spacingAndGlyphs">M</text><text x="697.01" y="735.8" textLength="14.12" lengthAdjust="spacingAndGlyphs">E</text><text x="711.14" y="735.8" textLength="18.05" lengthAdjust="spacingAndGlyphs">M</text><text x="729.18" y="735.8" textLength="6.28" lengthAdjust="spacingAndGlyphs">,</text></g></g>
<g class="t" font-size="29.78"><g fill="#00B050"><text x="743.41" y="729.6" textLength="11.77" lengthAdjust="spacingAndGlyphs">t</text></g></g>
<g class="t" font-size="19.85"><g fill="#00B050"><text x="755.30" y="735.8" textLength="17.20" lengthAdjust="spacingAndGlyphs">W</text><text x="772.50" y="735.8" textLength="13.26" lengthAdjust="spacingAndGlyphs">B</text></g></g>
<g class="t" fill="#00B050" font-size="29"><text x="444.2" y="729.6" textLength="10.5" lengthAdjust="spacingAndGlyphs">{</text><text x="783.2" y="730.6" textLength="10.5" lengthAdjust="spacingAndGlyphs">}</text></g>
</svg>
</body>
</html>
